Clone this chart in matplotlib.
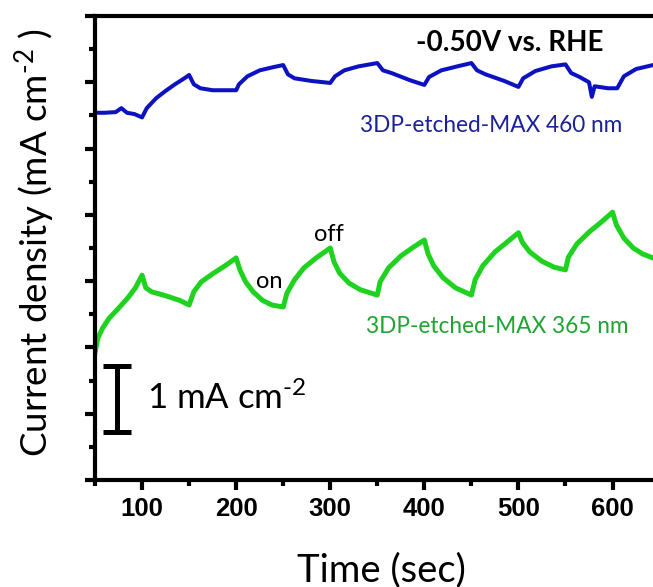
import matplotlib
matplotlib.use('Agg')
import matplotlib.pyplot as plt
from matplotlib.ticker import MultipleLocator

plt.rcParams['font.family'] = ['Lato', 'DejaVu Sans']
plt.rcParams['mathtext.fontset'] = 'custom'
plt.rcParams['mathtext.rm'] = 'Lato'
plt.rcParams['mathtext.it'] = 'Lato:italic'

# photocurrent response, values (offset units, 1 unit = 1 mA cm-2)
t_460 = [50, 60, 72, 78, 84, 92, 100, 105, 115, 125, 135, 145, 150, 155, 162, 175, 200,
         203, 212, 225, 240, 250, 255, 262, 280, 300, 305, 315, 330, 350, 356, 365, 385,
         400, 405, 418, 435, 450, 456, 465, 485, 500, 505, 518, 535, 550, 556, 565, 575,
         578, 581, 595, 605, 612, 625, 643]
j_460 = [5.54, 5.54, 5.55, 5.61, 5.54, 5.52, 5.47, 5.61, 5.76, 5.87, 5.97, 6.06, 6.11,
         5.97, 5.91, 5.88, 5.88, 5.97, 6.09, 6.18, 6.23, 6.26, 6.12, 6.06, 6.02, 5.99,
         6.09, 6.18, 6.24, 6.29, 6.18, 6.14, 6.03, 5.96, 6.08, 6.18, 6.24, 6.29, 6.18,
         6.12, 6.02, 5.93, 6.06, 6.17, 6.24, 6.27, 6.14, 6.08, 6.00, 5.78, 5.94, 5.91,
         5.91, 6.09, 6.20, 6.26]

t_365 = [50, 53, 58, 65, 75, 85, 93, 100, 104, 110, 125, 140, 150, 155, 163, 175, 188,
         200, 204, 210, 218, 228, 238, 250, 254, 262, 272, 285, 300, 304, 310, 320, 332,
         350, 353, 362, 375, 388, 400, 404, 410, 420, 433, 450, 454, 462, 475, 488, 500,
         504, 512, 525, 538, 550, 553, 562, 575, 588, 600, 604, 612, 622, 632, 643]
j_365 = [1.92, 2.14, 2.29, 2.44, 2.59, 2.75, 2.90, 3.09, 2.90, 2.84, 2.78, 2.71, 2.64,
         2.84, 2.99, 3.11, 3.23, 3.35, 3.17, 2.99, 2.84, 2.71, 2.64, 2.61, 2.82, 3.02,
         3.20, 3.35, 3.50, 3.29, 3.12, 2.97, 2.87, 2.79, 2.99, 3.20, 3.38, 3.51, 3.62,
         3.41, 3.23, 3.05, 2.90, 2.79, 3.02, 3.23, 3.44, 3.59, 3.73, 3.59, 3.44, 3.30,
         3.21, 3.17, 3.36, 3.56, 3.74, 3.89, 4.04, 3.85, 3.65, 3.50, 3.41, 3.35]

x_ticks = [100, 200, 300, 400, 500, 600]

fig = plt.figure(figsize=(6.53, 5.87), dpi=100)
ax = fig.add_axes([95 / 653, 1 - 480 / 587, 1 - 95 / 653, (480 - 16) / 587])

ax.plot(t_460, j_460, color='#0c12c2', lw=2.9, solid_joinstyle='round')
ax.plot(t_365, j_365, color='#1fd21f', lw=3.6, solid_joinstyle='round')

ax.set_xlim(50, 643)
ax.set_ylim(0, 7)
ax.set_xticks(x_ticks, labels=[str(v) for v in x_ticks],
              fontfamily='Liberation Sans', fontweight='bold', fontsize=18.5)
ax.xaxis.set_minor_locator(MultipleLocator(50))
ax.yaxis.set_major_locator(MultipleLocator(1))
ax.yaxis.set_minor_locator(MultipleLocator(0.5))
ax.set_yticklabels([])

for s in ['left', 'bottom', 'top']:
    ax.spines[s].set_linewidth(3)
ax.spines['right'].set_visible(False)
ax.tick_params(which='major', direction='out', length=7, width=3, pad=5)
ax.tick_params(which='minor', direction='out', length=4, width=3)

# scale bar: 1 mA cm-2
ax.plot([73, 73], [0.72, 1.72], color='black', lw=3.6, solid_capstyle='butt')
ax.plot([59, 88], [0.72, 0.72], color='black', lw=3.6, solid_capstyle='butt')
ax.plot([59, 88], [1.72, 1.72], color='black', lw=3.6, solid_capstyle='butt')
ax.text(105, 1.24, r'1 mA cm$^{\text{-}2}$', fontsize=25, ha='left', va='center')

ax.text(491, 6.6, '-0.50V vs. RHE', fontsize=20, fontweight='bold', ha='center', va='center')
ax.text(471, 5.35, '3DP-etched-MAX 460 nm', fontsize=16.3, color='#1b2299', ha='center', va='center')
ax.text(478, 2.31, '3DP-etched-MAX 365 nm', fontsize=16.3, color='#1ea431', ha='center', va='center')
ax.text(235, 2.99, 'on', fontsize=17, ha='center', va='center')
ax.text(299, 3.70, 'off', fontsize=17, ha='center', va='center')

fig.text(35 / 653, 1 - 243 / 587, r'Current density (mA cm$^{\text{-}2}$ )', fontsize=26.5,
         rotation=90, ha='center', va='center')
fig.text(381 / 653, 1 - 570 / 587, 'Time (sec)', fontsize=27.5, ha='center', va='center')

fig.savefig('out.png', dpi=100)
